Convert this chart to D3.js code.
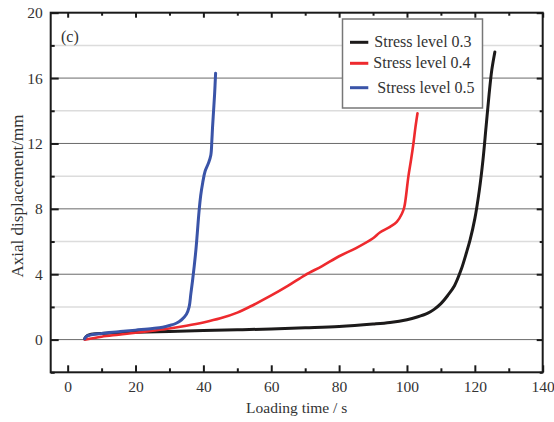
<!DOCTYPE html>
<html>
<head>
<meta charset="utf-8">
<script src="https://cdn.jsdelivr.net/npm/d3@7"></script>
<style>
  html, body { margin: 0; padding: 0; background: #fff; }
  svg { display: block; font-family: "Liberation Serif", "DejaVu Serif", serif; }
</style>
</head>
<body>
<svg id="chart" width="554" height="422"></svg>
<script>
// Loading time (s) and axial displacement (mm) for each stress level
const time03 = [5, 5.5, 6.5, 10, 20, 30, 40, 50, 60, 70, 80, 90, 95, 100, 103, 106, 108, 110, 112, 114, 116, 117.5, 118.6, 120, 121.3, 122.4, 123.3, 124.2, 125, 125.9];
const disp03 = [0.05, 0.2, 0.3, 0.38, 0.45, 0.5, 0.55, 0.6, 0.65, 0.72, 0.8, 0.95, 1.05, 1.22, 1.38, 1.6, 1.85, 2.2, 2.7, 3.3, 4.3, 5.3, 6.1, 7.4, 9.1, 11, 13, 15, 16.5, 17.6];

const time04 = [5, 10, 15, 20, 25, 30, 35, 40, 45, 50, 55, 60, 65, 70, 75, 80, 85, 90, 92, 95, 97, 98.5, 99.2, 99.6, 100.4, 101.2, 101.9, 102.5, 103.1];
const disp04 = [0, 0.18, 0.3, 0.42, 0.55, 0.68, 0.85, 1.05, 1.3, 1.65, 2.15, 2.7, 3.3, 3.95, 4.5, 5.1, 5.6, 6.2, 6.55, 6.9, 7.2, 7.7, 8.1, 8.6, 9.96, 11.0, 12.0, 13.0, 13.85];

const time05 = [5, 5.5, 7, 10, 15, 20, 25, 28, 30, 32, 33.5, 35, 35.8, 36.3, 36.8, 37.3, 37.8, 38.2, 38.7, 39.2, 39.8, 40.5, 41.5, 42.2, 42.5, 42.7, 43, 43.3, 43.6];
const disp05 = [0.05, 0.2, 0.3, 0.38, 0.48, 0.58, 0.68, 0.76, 0.86, 1.0, 1.2, 1.55, 2.0, 2.8, 3.6, 4.5, 5.5, 6.5, 7.8, 8.8, 9.6, 10.3, 10.8, 11.3, 12.2, 13.0, 14.0, 15.0, 16.3];

const seriesNames = ["Stress level 0.3", "Stress level 0.4", "Stress level 0.5"];
const seriesColors = ["#1c1a1a", "#ee2a2e", "#3a54a8"];

const xTicks = [0, 20, 40, 60, 80, 100, 120, 140];
const yTicks = [0, 4, 8, 12, 16, 20];
const yMinor = [-2, 2, 6, 10, 14, 18];
const xMinor = [10, 30, 50, 70, 90, 110, 130];

const svg = d3.select("#chart");
const x = d3.scaleLinear().domain([-5, 140]).range([50.7, 542.7]);
const y = d3.scaleLinear().domain([-2, 20]).range([372.3, 12.7]);
const [x0, x1] = x.range();
const [yB, yT] = y.range();

// horizontal grid: light minor lines, darker major lines
svg.append("g").selectAll("line").data(yMinor.filter(v => v > -2)).join("line")
  .attr("x1", x0).attr("x2", x1).attr("y1", d => y(d)).attr("y2", d => y(d))
  .attr("stroke", "#dcdcdc").attr("stroke-width", 1.5);
svg.append("g").selectAll("line").data(yTicks.filter(v => v < 20)).join("line")
  .attr("x1", x0).attr("x2", x1).attr("y1", d => y(d)).attr("y2", d => y(d))
  .attr("stroke", "#6a6a6a").attr("stroke-width", 1);

// series curves
const series = [
  time03.map((t, i) => [t, disp03[i]]),
  time04.map((t, i) => [t, disp04[i]]),
  time05.map((t, i) => [t, disp05[i]])
];
const curveLine = d3.line().x(p => x(p[0])).y(p => y(p[1])).curve(d3.curveCatmullRom.alpha(0.5));
const widths = [3, 2.6, 3];
svg.append("g").selectAll("path").data(series).join("path")
  .attr("d", d => curveLine(d))
  .attr("fill", "none")
  .attr("stroke", (d, i) => seriesColors[i])
  .attr("stroke-width", (d, i) => widths[i])
  .attr("stroke-linejoin", "round")
  .attr("stroke-linecap", "round");

// axes with inward ticks on all four sides
const fontSize = 15.5;
const axBottom = svg.append("g").attr("transform", `translate(0,${yB})`)
  .call(d3.axisBottom(x).tickValues(xTicks).tickSize(-7).tickPadding(9).tickFormat(d3.format("d")));
const axBottomMinor = svg.append("g").attr("transform", `translate(0,${yB})`)
  .call(d3.axisBottom(x).tickValues(xMinor).tickSize(-4).tickFormat(""));
const axTop = svg.append("g").attr("transform", `translate(0,${yT})`)
  .call(d3.axisTop(x).tickValues(xTicks).tickSize(-5).tickFormat(""));
const axTopMinor = svg.append("g").attr("transform", `translate(0,${yT})`)
  .call(d3.axisTop(x).tickValues(xMinor).tickSize(-3).tickFormat(""));
const axLeft = svg.append("g").attr("transform", `translate(${x0},0)`)
  .call(d3.axisLeft(y).tickValues(yTicks).tickSize(-8).tickPadding(8).tickFormat(d3.format("d")));
const axLeftMinor = svg.append("g").attr("transform", `translate(${x0},0)`)
  .call(d3.axisLeft(y).tickValues(yMinor).tickSize(-4).tickFormat(""));
const axRight = svg.append("g").attr("transform", `translate(${x1},0)`)
  .call(d3.axisRight(y).tickValues(yTicks).tickSize(-6).tickFormat(""));
const axRightMinor = svg.append("g").attr("transform", `translate(${x1},0)`)
  .call(d3.axisRight(y).tickValues(yMinor).tickSize(-3).tickFormat(""));

[axBottom, axBottomMinor, axTop, axTopMinor, axLeft, axLeftMinor, axRight, axRightMinor].forEach(g => {
  g.select(".domain").remove();
  g.selectAll(".tick line").attr("stroke", "#1a1a1a").attr("stroke-width", 2);
  g.selectAll(".tick text").attr("fill", "#333").attr("font-size", fontSize)
    .attr("font-family", "Liberation Serif, DejaVu Serif, serif");
});

// plot frame
svg.append("rect")
  .attr("x", x0).attr("y", yT).attr("width", x1 - x0).attr("height", yB - yT)
  .attr("fill", "none").attr("stroke", "#1a1a1a").attr("stroke-width", 2);

// axis titles and panel tag
svg.append("text").attr("x", (x0 + x1) / 2).attr("y", 413)
  .attr("text-anchor", "middle").attr("font-size", fontSize).attr("fill", "#333")
  .text("Loading time / s");
svg.append("text").attr("transform", `translate(23,196) rotate(-90)`)
  .attr("text-anchor", "middle").attr("font-size", 17).attr("fill", "#333")
  .text("Axial displacement/mm");
svg.append("text").attr("x", 61).attr("y", 42)
  .attr("font-size", 16).attr("fill", "#333").text("(c)");

// legend
const lg = svg.append("g");
lg.append("rect").attr("x", 342.5).attr("y", 19).attr("width", 140).attr("height", 89)
  .attr("fill", "#fff").attr("stroke", "#777").attr("stroke-width", 1.5);
const legY = [42.3, 63.3, 87.7];
const legTx = [374.3, 373.3, 377.3];
seriesNames.forEach((name, i) => {
  lg.append("line").attr("x1", 350).attr("x2", 368.3).attr("y1", legY[i]).attr("y2", legY[i])
    .attr("stroke", seriesColors[i]).attr("stroke-width", 3);
  lg.append("text").attr("x", legTx[i]).attr("y", legY[i] + 5)
    .attr("font-size", 16).attr("fill", "#333").text(name);
});
</script>
</body>
</html>
